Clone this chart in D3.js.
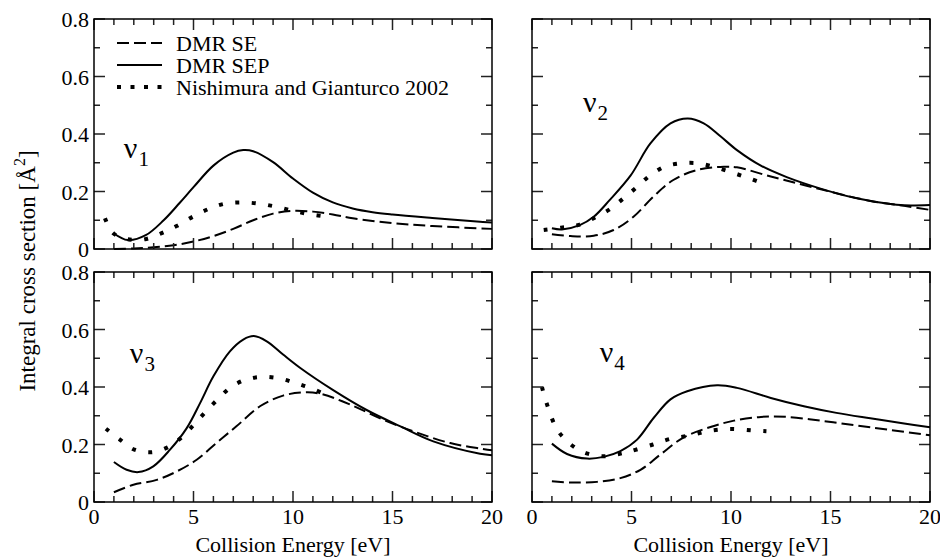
<!DOCTYPE html>
<html>
<head>
<meta charset="utf-8">
<script src="https://cdn.jsdelivr.net/npm/d3@7"></script>
</head>
<body style="margin:0">
<svg width="940" height="560"></svg>
<script>
// ---- data: [energy (eV), cross section (A^2)] ----
const v1SE  = [[1,0.0],[2,0.002],[3,0.006],[4,0.013],[5,0.026],[6,0.045],[7,0.07],[8,0.1],[9,0.123],[10,0.133],[11,0.13],[12,0.12],[13,0.107],[15,0.09],[17,0.08],[20,0.07]];
const v1SEP = [[1,0.054],[1.7,0.031],[2.6,0.048],[3.5,0.1],[4.3,0.16],[5,0.215],[6,0.29],[7,0.335],[7.5,0.344],[8,0.34],[9,0.302],[10,0.245],[11,0.196],[12,0.162],[13,0.141],[14,0.128],[15,0.12],[17,0.108],[19.4,0.095],[20,0.092]];
const v1NG  = [[0.55,0.107],[0.97,0.055],[1.7,0.034],[2.56,0.034],[3.4,0.055],[4.15,0.08],[4.96,0.112],[5.75,0.139],[6.53,0.157],[7.4,0.162],[8.26,0.158],[9.15,0.147],[10,0.133],[10.9,0.12],[11.8,0.112]];

const v2SE  = [[1,0.051],[1.93,0.045],[3.1,0.046],[4.1,0.066],[5.1,0.112],[6.1,0.182],[7.1,0.24],[8.3,0.275],[9.64,0.286],[10.3,0.284],[12,0.252],[13.7,0.222],[15.3,0.194],[17,0.167],[18.7,0.15],[20,0.136]];
const v2SEP = [[1,0.072],[1.5,0.068],[2.4,0.083],[3.1,0.112],[3.9,0.17],[4.95,0.255],[5.95,0.367],[6.96,0.437],[7.83,0.454],[8.63,0.437],[9.47,0.392],[10.3,0.344],[11.5,0.29],[12.8,0.25],[14.5,0.21],[16.2,0.178],[17.85,0.158],[18.7,0.152],[20,0.153]];
const v2NG  = [[0.59,0.066],[1.46,0.074],[2.3,0.083],[3.1,0.107],[3.86,0.136],[4.56,0.174],[5.23,0.213],[5.9,0.254],[6.65,0.286],[7.49,0.298],[8.37,0.298],[9.22,0.284],[10.06,0.266],[10.9,0.246],[11.73,0.225]];

const v3SE  = [[1,0.034],[1.98,0.06],[3.15,0.077],[4.15,0.106],[5.16,0.147],[6.16,0.206],[7.17,0.264],[8.34,0.333],[9.5,0.37],[10.5,0.381],[11.36,0.377],[12.87,0.339],[14.54,0.286],[16.2,0.242],[17.9,0.205],[19.4,0.186],[20,0.18]];
const v3SEP = [[1,0.139],[1.64,0.112],[2.23,0.104],[2.98,0.124],[3.82,0.182],[4.66,0.257],[5.33,0.344],[6,0.437],[6.83,0.524],[7.5,0.565],[8.04,0.577],[8.68,0.559],[9.5,0.513],[10.35,0.467],[12,0.39],[13.7,0.32],[15.4,0.263],[17.05,0.211],[19.4,0.168],[20,0.163]];
const v3NG  = [[0.6,0.255],[1.3,0.217],[2.03,0.182],[2.9,0.173],[3.7,0.19],[4.37,0.223],[4.99,0.267],[5.6,0.313],[6.2,0.356],[6.87,0.399],[7.64,0.426],[8.5,0.435],[9.38,0.429],[10.2,0.412],[11,0.393],[11.8,0.368]];

const v4SE  = [[1,0.072],[1.93,0.068],[3.27,0.07],[4.44,0.083],[5.45,0.112],[6.45,0.165],[7.63,0.225],[8.97,0.261],[10.15,0.283],[11.5,0.296],[12.8,0.296],[14.5,0.283],[16.2,0.267],[17.85,0.252],[20,0.232]];
const v4SEP = [[1,0.203],[1.76,0.167],[2.77,0.151],[3.6,0.157],[4.44,0.177],[5.28,0.217],[6.12,0.293],[6.96,0.357],[7.8,0.385],[9.3,0.406],[10.3,0.397],[12,0.362],[13.66,0.333],[15.3,0.31],[17,0.291],[18.7,0.273],[20,0.26]];
const v4NG  = [[0.5,0.4],[0.72,0.347],[1.22,0.257],[1.68,0.217],[2.23,0.186],[2.8,0.168],[3.52,0.159],[4.22,0.165],[4.91,0.176],[6.08,0.2],[6.92,0.219],[7.96,0.232],[8.97,0.248],[9.98,0.254],[11.06,0.249],[11.78,0.246]];

const modeNames  = ["1", "2", "3", "4"];
const seriesNames = ["DMR SE", "DMR SEP", "Nishimura and Gianturco 2002"];
const xTicks = [0, 5, 10, 15, 20];
const yTicks = [0, 0.2, 0.4, 0.6, 0.8];
// where the nu label sits, in data units [E, sigma]
const labelAt = [[1.5, 0.317], [2.56, 0.477], [1.8, 0.483], [3.4, 0.487]];

const panelData = [
  [v1SE, v1SEP, v1NG],
  [v2SE, v2SEP, v2NG],
  [v3SE, v3SEP, v3NG],
  [v4SE, v4SEP, v4NG]
];

// ---- layout ----
const FONT = "'Liberation Serif'";
const svg = d3.select("svg");
const pw = 398, ph = 230;
const colX = [94, 532];
const rowY = [19, 272];
const fontSize = 22;

const styles = [
  { dash: "12,5", width: 2 },      // SE
  { dash: null, width: 2 },        // SEP
  { dash: "4,12.5", width: 4 }     // NG dotted
];

const x = d3.scaleLinear().domain([0, 20]).range([0, pw]);
const y = d3.scaleLinear().domain([0, 0.8]).range([ph, 0]);

const line = d3.line()
  .x(d => x(d[0]))
  .y(d => y(d[1]))
  .curve(d3.curveCatmullRom.alpha(0.5));

// every text and tspan gets the font itself, nothing is inherited
function label(sel, size) {
  return sel.append("text")
    .attr("font-family", FONT).style("font-family", FONT)
    .attr("font-size", size);
}
function sub(sel, size) {
  return sel.append("tspan")
    .attr("font-family", FONT).style("font-family", FONT)
    .attr("font-size", size);
}

panelData.forEach((series, i) => {
  const col = i % 2, row = Math.floor(i / 2);
  const g = svg.append("g")
    .attr("transform", `translate(${colX[col]},${rowY[row]})`);

  // curves
  series.forEach((pts, s) => {
    const p = g.append("path")
      .datum(pts)
      .attr("d", line)
      .attr("fill", "none")
      .attr("stroke", "#000")
      .attr("stroke-width", styles[s].width);
    if (styles[s].dash) p.attr("stroke-dasharray", styles[s].dash);
  });

  // ticks on all four sides, pointing inward
  const minorX = d3.range(0, 21, 1), minorY = d3.range(0, 0.81, 0.1);
  const ticks = g.append("g").attr("stroke", "#222").attr("stroke-width", 1.5);
  minorX.forEach(v => {
    const len = v % 5 === 0 ? 11 : 6;
    ticks.append("line").attr("x1", x(v)).attr("x2", x(v)).attr("y1", ph).attr("y2", ph - len);
    ticks.append("line").attr("x1", x(v)).attr("x2", x(v)).attr("y1", 0).attr("y2", len);
  });
  minorY.forEach((v, k) => {
    const len = k % 2 === 0 ? 11 : 6;
    ticks.append("line").attr("y1", y(v)).attr("y2", y(v)).attr("x1", 0).attr("x2", len);
    ticks.append("line").attr("y1", y(v)).attr("y2", y(v)).attr("x1", pw).attr("x2", pw - len);
  });

  // frame
  g.append("rect")
    .attr("width", pw).attr("height", ph)
    .attr("fill", "none").attr("stroke", "#000").attr("stroke-width", 1.5);

  // tick labels
  if (col === 0) {
    yTicks.forEach(v => {
      label(g, fontSize)
        .attr("x", -5).attr("y", y(v) + 8)
        .attr("text-anchor", "end")
        .text(v === 0 ? "0" : v.toFixed(1));
    });
  }
  if (row === 1) {
    xTicks.forEach(v => {
      label(g, fontSize)
        .attr("x", x(v)).attr("y", ph + 22)
        .attr("text-anchor", "middle")
        .text(v);
    });
    label(g, fontSize)
      .attr("x", pw / 2).attr("y", ph + 50)
      .attr("text-anchor", "middle")
      .text("Collision Energy [eV]");
  }

  // mode label
  const lab = label(g, 30)
    .attr("x", x(labelAt[i][0])).attr("y", y(labelAt[i][1]));
  sub(lab, 30).text("ν");
  sub(lab, 21).attr("dx", 1).attr("dy", 8).text(modeNames[i]);

  // legend in first panel
  if (i === 0) {
    const leg = g.append("g").attr("transform", "translate(23,24)");
    seriesNames.forEach((name, s) => {
      const r = leg.append("g").attr("transform", `translate(0,${s * 22})`);
      r.append("line")
        .attr("x1", 0).attr("x2", 45)
        .attr("stroke", "#000")
        .attr("stroke-width", styles[s].width)
        .attr("stroke-dasharray", s === 2 ? "4,9.5" : (styles[s].dash || "none"));
      label(r, fontSize)
        .attr("x", 59).attr("y", 8)
        .text(name);
    });
  }
});

// y axis title
const yt = label(svg, 23)
  .attr("transform", "translate(35,271) rotate(-90)")
  .attr("text-anchor", "middle");
sub(yt, 23).text("Integral cross section [Å");
sub(yt, 16).attr("dy", -10).text("2");
sub(yt, 23).attr("dy", 10).text("]");
</script>
</body>
</html>
